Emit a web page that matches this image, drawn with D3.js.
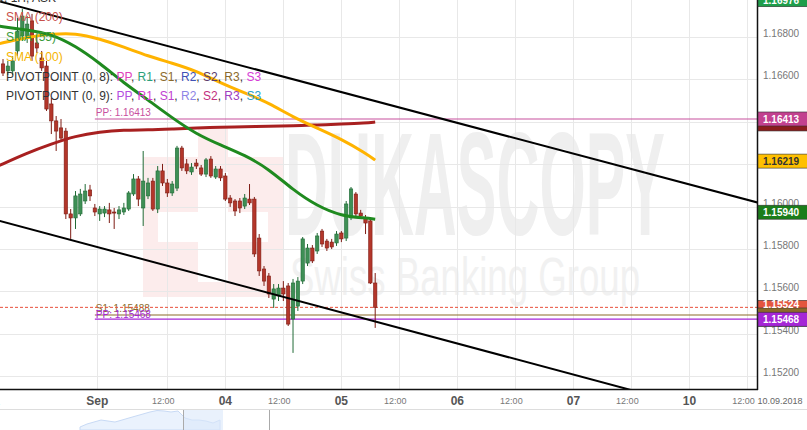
<!DOCTYPE html>
<html><head><meta charset="utf-8">
<script src="https://cdn.jsdelivr.net/npm/d3@7"></script>
<style>
html,body{margin:0;padding:0;background:#fff;}
svg{display:block;font-family:"Liberation Sans",Arial,sans-serif;}
</style></head><body>
<svg id="c" width="807" height="430"></svg>
<script>
// ---------- DATA ----------
const open = [1.16673,1.16640,1.16640,1.16734,1.16805,1.16795,1.16876,1.16772,1.16701,1.16663,
1.16484,1.16404,1.16371,1.16356,1.15965,1.15946,1.15965,1.16026,1.16078,1.15993,
1.15965,1.15969,1.15984,1.15974,1.15965,1.15974,1.15988,1.16059,1.16130,1.15993,
1.16050,1.16120,1.15988,1.16168,1.16111,1.16064,1.16087,1.16276,1.16201,1.16163,
1.16205,1.16182,1.16153,1.16224,1.16139,1.16177,1.16144,1.16040,1.16026,1.16026,
1.16002,1.16035,1.16035,1.15851,1.15705,1.15672,1.15563,1.15578,1.15615,1.15625,
1.15469,1.15530,1.15648,1.15733,1.15804,1.15790,1.15884,1.15837,1.15832,1.15828,
1.15875,1.15851,1.15946,1.16059,1.15969,1.15946,1.15932,1.15639];
const high = [1.16696,1.16687,1.16710,1.16890,1.16932,1.16899,1.16909,1.16805,1.16734,1.16687,
1.16512,1.16427,1.16413,1.16371,1.15988,1.16073,1.16083,1.16106,1.16102,1.16012,
1.16002,1.16002,1.16017,1.15993,1.16002,1.16017,1.16073,1.16153,1.16144,1.16262,
1.16135,1.16135,1.16191,1.16201,1.16130,1.16120,1.16286,1.16286,1.16224,1.16205,
1.16224,1.16196,1.16229,1.16238,1.16191,1.16191,1.16158,1.16054,1.16035,1.16040,
1.16059,1.16106,1.16045,1.15870,1.15719,1.15686,1.15634,1.15634,1.15648,1.15639,
1.15658,1.15667,1.15856,1.15823,1.15818,1.15875,1.15894,1.15847,1.15847,1.15884,
1.15884,1.16026,1.16092,1.16068,1.15984,1.15960,1.15941,1.15686];
const low = [1.16616,1.16621,1.16621,1.16710,1.16781,1.16772,1.16687,1.16725,1.16640,1.16451,
1.16342,1.16262,1.16309,1.15941,1.15847,1.15894,1.15955,1.16012,1.16026,1.15955,
1.15932,1.15950,1.15922,1.15894,1.15941,1.15960,1.15979,1.16050,1.16002,1.15908,
1.16035,1.15979,1.15969,1.16097,1.16045,1.16050,1.16073,1.16168,1.16153,1.16149,
1.16177,1.16144,1.16139,1.16135,1.16130,1.16120,1.16026,1.15998,1.15955,1.15969,
1.15988,1.16007,1.15762,1.15672,1.15625,1.15568,1.15521,1.15554,1.15554,1.15436,
1.15309,1.15507,1.15634,1.15719,1.15733,1.15776,1.15809,1.15790,1.15799,1.15814,
1.15832,1.15837,1.15936,1.15955,1.15941,1.15870,1.15634,1.15427];
const close = [1.16630,1.16663,1.16687,1.16828,1.16899,1.16861,1.16710,1.16748,1.16654,1.16460,
1.16404,1.16356,1.16323,1.15965,1.15946,1.16050,1.16059,1.16073,1.16050,1.15974,
1.15988,1.15988,1.15965,1.15969,1.15984,1.15993,1.16064,1.16130,1.16035,1.16120,
1.16111,1.15988,1.16168,1.16111,1.16064,1.16106,1.16276,1.16182,1.16168,1.16186,
1.16191,1.16153,1.16220,1.16144,1.16177,1.16135,1.16035,1.16017,1.15979,1.15993,
1.16040,1.16017,1.15776,1.15696,1.15648,1.15587,1.15611,1.15615,1.15587,1.15445,
1.15639,1.15648,1.15847,1.15804,1.15743,1.15861,1.15823,1.15804,1.15809,1.15870,
1.15847,1.16012,1.16083,1.15965,1.15955,1.15922,1.15639,1.15524];

const smaIdx = [-1,5,10,15,20,25,30,35,40,45,50,55,60,65,70,75,77];
const sma200 = [1.16191,1.16253,1.16295,1.16333,1.16352,1.16361,1.16361,1.16366,1.16371,1.16375,1.16375,1.16380,1.16380,1.16385,1.16389,1.16394,1.16399];
const sma100 = [1.16767,1.16800,1.16814,1.16819,1.16791,1.16753,1.16710,1.16677,1.16640,1.16583,1.16536,1.16489,1.16422,1.16370,1.16318,1.16252,1.16219];
const sma55  = [1.16852,1.16833,1.16814,1.16758,1.16677,1.16583,1.16503,1.16418,1.16342,1.16290,1.16243,1.16177,1.16078,1.16002,1.15955,1.15946,1.15940];

const trendUpper = [[-1,1.16970],[160,1.15995]];
const trendLower = [[-1,1.15934],[160,1.14950]];

const pivotStart = 19;
const pivotNames  = ["PP","S1","PP"];
const pivotValues = [1.16413,1.15488,1.15468];
const lastPrice = 1.15524;

const yTicks = [1.152,1.154,1.156,1.158,1.160,1.162,1.164,1.166,1.168,1.170];
const xTickIdx    = [-2,19.5,34,46,58,70,82,94,106,118,130,142,154];
const xTickLabels = ["31","Sep","12:00","04","12:00","05","12:00","06","12:00","07","12:00","10","12:00"];
const dateLabel = "10.09.2018";
const title = "EURUSD, 1H, ASK";

const boxValues = [1.16976,1.16399,1.16413,1.16219,1.15940,1.15524,1.15488,1.15468];
const navVals = [1.1457,1.1514,1.1552,1.1590,1.1571,1.1552,1.1590,1.1629,1.1667,1.1705,1.1743,1.1771,1.1762,1.1743,1.1762,1.1629,1.1590,1.1590,1.1571,1.1533,1.1590];

// ---------- LAYOUT ----------
const svg = d3.select("#c");
const plotR = 757, plotB = 389;
const x = d3.scaleLinear().domain([0,77]).range([3,375.2]);
const y = d3.scaleLinear().domain([1.152,1.168]).range([376,37]);
const fmt = d3.format(".5f");

svg.append("defs").append("clipPath").attr("id","plot")
  .append("rect").attr("x",0).attr("y",0).attr("width",plotR).attr("height",plotB);
const plot = svg.append("g").attr("clip-path","url(#plot)");

// watermark
const wm = plot.append("g");
wm.append("rect").attr("x",143).attr("y",157).attr("width",140).attr("height",140).attr("fill","#fcecec");
wm.append("rect").attr("x",198).attr("y",128).attr("width",30).attr("height",40).attr("fill","#fcecec");
wm.append("rect").attr("x",158).attr("y",212).attr("width",110).attr("height",30).attr("fill","#fff");
wm.append("rect").attr("x",198).attr("y",172).attr("width",30).attr("height",110).attr("fill","#fff");
wm.append("text").attr("x",285).attr("y",235).attr("font-size",146).attr("font-weight","bold")
  .attr("textLength",380).attr("lengthAdjust","spacingAndGlyphs").attr("fill","#efefef").text("DUKASCOPY");
wm.append("text").attr("x",290).attr("y",295).attr("font-size",54)
  .attr("textLength",350).attr("lengthAdjust","spacingAndGlyphs").attr("fill","#f1f1f1").text("Swiss Banking Group");

// grid
plot.append("g").selectAll("line").data(yTicks).join("line")
  .attr("x1",0).attr("x2",plotR).attr("y1",d=>Math.round(y(d))+0.5).attr("y2",d=>Math.round(y(d))+0.5)
  .attr("stroke","#e8e8e8");
plot.append("g").selectAll("line").data(xTickIdx).join("line")
  .attr("y1",0).attr("y2",plotB).attr("x1",d=>Math.round(x(d))+0.5).attr("x2",d=>Math.round(x(d))+0.5)
  .attr("stroke","#e8e8e8");

// title + legend
svg.append("text").attr("x",56).attr("y",2).attr("text-anchor","end").attr("font-size",12).attr("fill","#333").text(title);
const leg = svg.append("g").attr("font-size",12);
leg.append("text").attr("x",6).attr("y",21).attr("fill","#c8504a").text("SMA (200)");
leg.append("text").attr("x",6).attr("y",41).attr("fill","#3a9a3a").text("SMA (55)");
leg.append("text").attr("x",6).attr("y",61).attr("fill","#f5b400").text("SMA (100)");
function pivotLegend(yy, label, cols){
  const t = leg.append("text").attr("x",6).attr("y",yy);
  t.append("tspan").attr("fill","#333").text(label);
  const names=["PP","R1","S1","R2","S2","R3","S3"];
  names.forEach((n,i)=>{
    t.append("tspan").attr("fill",cols[i]).text(n);
    if(i<names.length-1) t.append("tspan").attr("fill","#333").text(", ");
  });
}
pivotLegend(81,"PIVOTPOINT (0, 8): ",["#e040b8","#2aa07a","#8b6a2a","#3f51b5","#5b3a6b","#8b6a2a","#d63cd6"]);
pivotLegend(100,"PIVOTPOINT (0, 9): ",["#b44ee0","#d63cd6","#c040d0","#8c84e6","#c2307e","#a040c0","#2aa0c8"]);

// pivot lines
const pivCols = ["#c8509e","#8b6a2a","#a526d6"];
pivotValues.forEach((v,i)=>{
  const yy = y(v);
  plot.append("line").attr("x1",x(pivotStart)).attr("x2",plotR).attr("y1",yy).attr("y2",yy)
    .attr("stroke",pivCols[i]).attr("stroke-width",1.2);
  plot.append("text").attr("x",x(pivotStart)+1).attr("y",yy-(i===2?1:3)).attr("font-size",10)
    .attr("fill",pivCols[i]).text(pivotNames[i]+": "+fmt(v));
});
plot.append("line").attr("x1",0).attr("x2",plotR).attr("y1",y(lastPrice)).attr("y2",y(lastPrice))
  .attr("stroke","#e8503a").attr("stroke-dasharray","3,2");

// candles
const idx = d3.range(open.length);
const cw = 3.4;
const cg = plot.append("g");
idx.forEach(i=>{
  const up = close[i] > open[i];
  const fill = up ? "#3e8f55" : "#b3362a";
  const stroke = up ? "#216b36" : "#7e1c14";
  const cx = x(i);
  cg.append("line").attr("x1",cx).attr("x2",cx).attr("y1",y(high[i])).attr("y2",y(low[i]))
    .attr("stroke",stroke).attr("stroke-width",1);
  const top = y(Math.max(open[i],close[i])), bot = y(Math.min(open[i],close[i]));
  cg.append("rect").attr("x",cx-cw/2).attr("y",top).attr("width",cw).attr("height",Math.max(1,bot-top))
    .attr("fill",fill).attr("stroke",stroke).attr("stroke-width",0.6);
});

// trend lines
[trendUpper,trendLower].forEach(t=>{
  plot.append("line").attr("x1",x(t[0][0])).attr("y1",y(t[0][1])).attr("x2",x(t[1][0])).attr("y2",y(t[1][1]))
    .attr("stroke","#000").attr("stroke-width",2);
});

// SMA lines
const line = d3.line().x((d,i)=>x(smaIdx[i])).y(d=>y(d)).curve(d3.curveBasis);
plot.append("path").datum(sma200).attr("d",line).attr("fill","none").attr("stroke","#a82020").attr("stroke-width",3);
plot.append("path").datum(sma100).attr("d",line).attr("fill","none").attr("stroke","#ffb300").attr("stroke-width",3);
plot.append("path").datum(sma55).attr("d",line).attr("fill","none").attr("stroke","#1f8a1f").attr("stroke-width",3);

// axes frame
svg.append("line").attr("x1",plotR+0.5).attr("x2",plotR+0.5).attr("y1",0).attr("y2",plotB+1).attr("stroke","#111").attr("stroke-width",1.5);
svg.append("line").attr("x1",0).attr("x2",plotR+1).attr("y1",plotB+0.5).attr("y2",plotB+0.5).attr("stroke","#111").attr("stroke-width",1.5);

// price boxes
const boxFill = ["#1e9e4a","#8b1c1c","#c2418f","#ffc000","#1a7d1a","#e4553f","#8b6a2a","#a526d6"];
const boxText = ["#fff",null,"#fff","#333","#fff","#fff",null,"#fff"];
const boxShift = [0,2,0,1,-7,0,0,0];
const boxCenters = boxValues.map((v,i)=>y(v)+boxShift[i]);

// y labels (those hidden under a price box are not drawn)
const visTicks = yTicks.filter(t=>boxCenters.every(c=>Math.abs((y(t)-4)-c) > 7));
svg.append("g").selectAll("text").data(visTicks).join("text")
  .attr("x",763).attr("y",d=>y(d)).attr("font-size",10).attr("fill","#777").text(d=>fmt(d));

boxValues.forEach((v,i)=>{
  const cy = boxCenters[i];
  svg.append("rect").attr("x",plotR+1).attr("y",cy-7).attr("width",50).attr("height",14)
    .attr("fill",boxFill[i]).attr("stroke","#333").attr("stroke-width",0.6);
  if(boxText[i] && !(i===5))
    svg.append("text").attr("x",plotR+6).attr("y",cy+4).attr("font-size",10).attr("font-weight","bold")
      .attr("fill",boxText[i]).text(fmt(v));
});
// last price box text partly covered
svg.append("text").attr("x",plotR+6).attr("y",boxCenters[5]+1).attr("font-size",10).attr("font-weight","bold")
  .attr("fill","#fff").text(fmt(boxValues[5]));
svg.append("rect").attr("x",plotR+1).attr("y",boxCenters[6]-6).attr("width",50).attr("height",4).attr("fill",boxFill[6]);
svg.append("rect").attr("x",plotR+1).attr("y",boxCenters[7]-7).attr("width",50).attr("height",14)
  .attr("fill",boxFill[7]).attr("stroke","#333").attr("stroke-width",0.6);
svg.append("text").attr("x",plotR+6).attr("y",boxCenters[7]+4).attr("font-size",10).attr("font-weight","bold")
  .attr("fill","#fff").text(fmt(boxValues[7]));

// x labels
xTickIdx.forEach((t,i)=>{
  const major = xTickLabels[i] !== "12:00";
  svg.append("text").attr("x",x(t)+(major?0:-4)).attr("y",major?405:404).attr("text-anchor","middle")
    .attr("font-size",major?12:9).attr("font-weight",major?"bold":"normal")
    .attr("fill",major?"#555":"#777").text(xTickLabels[i]);
});
svg.append("text").attr("x",780).attr("y",404).attr("text-anchor","middle").attr("font-size",9).attr("fill","#666").text(dateLabel);

// navigator
svg.append("line").attr("x1",0).attr("x2",807).attr("y1",409.5).attr("y2",409.5).attr("stroke","#ddd");
const nx = d3.scaleLinear().domain([0,navVals.length-1]).range([80,220]);
const ny = d3.scaleLinear().domain([1.14,1.18]).range([430,409]);
const area = d3.area().x((d,i)=>nx(i)).y0(430).y1(d=>ny(d));
svg.append("path").datum(navVals).attr("d",area).attr("fill","#eaf2fd").attr("stroke","#c8daf5");
svg.append("rect").attr("x",183).attr("y",410).attr("width",40).attr("height",20).attr("fill","#dbe7fa").attr("opacity",0.6);
[183,269].forEach(xx=>svg.append("line").attr("x1",xx+0.5).attr("x2",xx+0.5).attr("y1",410).attr("y2",430).attr("stroke","#aaa"));
</script>
</body></html>
